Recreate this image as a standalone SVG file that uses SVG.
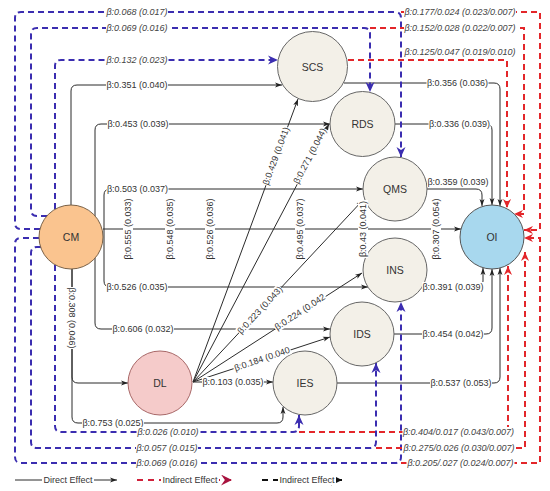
<svg xmlns="http://www.w3.org/2000/svg" width="550" height="491" viewBox="0 0 550 491">
<style>
.d{fill:none;stroke:#2b2b2b;stroke-width:1}
.b{fill:none;stroke:#3B2DB0;stroke-width:2;stroke-dasharray:6 4}
.r{fill:none;stroke:#E3262A;stroke-width:2;stroke-dasharray:6 4}
.bg{fill:#fff}
.lbl{font-family:"Liberation Sans",Arial,Helvetica,sans-serif;font-size:9px;fill:#333;text-anchor:middle;dominant-baseline:central}
.il{font-style:italic;fill:#444}
.nt{font-family:"Liberation Sans",Arial,Helvetica,sans-serif;font-size:10.5px;fill:#333;text-anchor:middle;dominant-baseline:central}
.nd{fill:#F3F0E8;stroke:#666;stroke-width:1}
</style>
<defs>
<marker id="ab" viewBox="0 0 10 10" refX="10" refY="5" markerWidth="7" markerHeight="7" markerUnits="userSpaceOnUse" orient="auto"><path d="M0,1.5 L10,5 L0,8.5 L2.5,5z" fill="#222"/></marker>
<marker id="mb" viewBox="0 0 10 10" refX="10" refY="5" markerWidth="10" markerHeight="10" markerUnits="userSpaceOnUse" orient="auto"><path d="M0,0.5 L10,5 L0,9.5 L3,5z" fill="#3B2DB0"/></marker>
<marker id="mr" viewBox="0 0 10 10" refX="10" refY="5" markerWidth="9" markerHeight="9" markerUnits="userSpaceOnUse" orient="auto"><path d="M0,0.5 L10,5 L0,9.5 L3,5z" fill="#E3262A"/></marker>
<marker id="lr" viewBox="0 0 10 10" refX="10" refY="5" markerWidth="11" markerHeight="11" markerUnits="userSpaceOnUse" orient="auto"><path d="M0,0 L10,5 L0,10 L3.5,5z" fill="#A8123E"/></marker>
<marker id="lk" viewBox="0 0 10 10" refX="10" refY="5" markerWidth="11" markerHeight="11" markerUnits="userSpaceOnUse" orient="auto"><path d="M0,0 L10,5 L0,10 L3.5,5z" fill="#111"/></marker>
</defs>
<rect width="550" height="491" fill="#fff"/>
<g id="connectors">
<g marker-end="url(#ab)">
<path class="d" d="M71,205 V91 Q71,85 77,85 H282"/>
<path class="d" d="M95,216 V130 Q95,124 101,124 H330"/>
<path class="d" d="M104,229 V195 Q104,189 110,189 H363"/>
<path class="d" d="M103,229 H461"/>
<path class="d" d="M104,229 V281 Q104,287 110,287 H368"/>
<path class="d" d="M95,258 V323 Q95,329 101,329 H330"/>
<path class="d" d="M72,269 V377 Q72,383 78,383 H128"/>
<path class="d" d="M72,269 V417 Q72,423 78,423 H277 Q283,423 283,417 V407"/>
<path class="d" d="M193,382 L298,99"/>
<path class="d" d="M193,382 L329,124"/>
<path class="d" d="M193,382 L363,200"/>
<path class="d" d="M193,382 L362,273"/>
<path class="d" d="M193,382 L330,337"/>
<path class="d" d="M193,382 H273"/>
<path class="d" d="M344,83 H494 Q500,83 500,89 V206"/>
<path class="d" d="M395,124 H486 Q492,124 492,130 V205"/>
<path class="d" d="M427,189 H476 Q482,189 482,195 V206"/>
<path class="d" d="M422,287 H477 Q483,287 483,281 V268"/>
<path class="d" d="M394,334 H486 Q492,334 492,328 V269"/>
<path class="d" d="M337,383 H494 Q500,383 500,377 V268"/>
<path class="d" d="M15,480 H117"/>
</g>
<g marker-end="url(#mb)">
<path class="b" d="M40,229 H21 Q15,229 15,223 V18 Q15,12 21,12 H395 Q401,12 401,18 V157"/>
<path class="b" d="M47,216 H37 Q31,216 31,210 V34 Q31,28 37,28 H364 Q370,28 370,34 V92"/>
<path class="b" d="M55,209 V66 Q55,60 61,60 H278"/>
<path class="b" d="M55,265 V426 Q55,432 61,432 H293 Q299,432 299,426 V415"/>
<path class="b" d="M41,247 H37 Q31,247 31,253 V442 Q31,448 37,448 H370 Q376,448 376,442 V363"/>
<path class="b" d="M39,238 H21 Q15,238 15,244 V457 Q15,463 21,463 H395 Q401,463 401,457 V302"/>
</g>
<g marker-end="url(#mr)">
<path class="r" d="M401,12 H540 V230 H524"/>
<path class="r" d="M370,28 H524 V214 H514"/>
<path class="r" d="M348,60 H507 V208"/>
<path class="r" d="M299,432 H508 V266"/>
<path class="r" d="M376,448 H525 V252"/>
<path class="r" d="M401,463 H540 V238 H524"/>
</g>
<path d="M137,480 H232" fill="none" stroke="#D0203A" stroke-width="2" stroke-dasharray="6 5" marker-end="url(#lr)"/>
<path d="M262,480 H342" fill="none" stroke="#111" stroke-width="2" stroke-dasharray="6 5" marker-end="url(#lk)"/>
</g>
<g id="CM"><circle cx="71" cy="237" r="32" fill="#FAC48F" stroke="#7a6248"/><text class="nt" x="71" y="237">CM</text></g>
<g id="SCS"><circle cx="312.5" cy="66.5" r="35" class="nd"/><text class="nt" x="312.5" y="67">SCS</text></g>
<g id="RDS"><circle cx="362.5" cy="124" r="32.5" class="nd"/><text class="nt" x="362.5" y="124">RDS</text></g>
<g id="QMS"><circle cx="395" cy="189" r="32" class="nd"/><text class="nt" x="395" y="189">QMS</text></g>
<g id="INS"><circle cx="395" cy="270" r="32" class="nd"/><text class="nt" x="395" y="270">INS</text></g>
<g id="IDS"><circle cx="362" cy="334" r="32" class="nd"/><text class="nt" x="362" y="334">IDS</text></g>
<g id="IES"><circle cx="305" cy="383" r="32" class="nd"/><text class="nt" x="305" y="383">IES</text></g>
<g id="DL"><circle cx="160" cy="383" r="32" fill="#F5CBCA" stroke="#A86868"/><text class="nt" x="160" y="383">DL</text></g>
<g id="OI"><circle cx="492" cy="237" r="32" fill="#A8D8EE" stroke="#555"/><text class="nt" x="492" y="237">OI</text></g>
<g id="labels">
<g transform="translate(137,85)"><rect class="bg" x="-31" y="-5" width="62" height="10"/><text class="lbl">β:0.351 (0.040)</text></g>
<g transform="translate(138,124)"><rect class="bg" x="-31" y="-5" width="62" height="10"/><text class="lbl">β:0.453 (0.039)</text></g>
<g transform="translate(137.5,189)"><rect class="bg" x="-31" y="-5" width="62" height="10"/><text class="lbl">β:0.503 (0.037)</text></g>
<g transform="translate(137,287)"><rect class="bg" x="-31" y="-5" width="62" height="10"/><text class="lbl">β:0.526 (0.035)</text></g>
<g transform="translate(143,329)"><rect class="bg" x="-31" y="-5" width="62" height="10"/><text class="lbl">β:0.606 (0.032)</text></g>
<g transform="translate(113,423)"><rect class="bg" x="-31" y="-5" width="62" height="10"/><text class="lbl">β:0.753 (0.025)</text></g>
<g transform="translate(233,382)"><rect class="bg" x="-31" y="-5" width="62" height="10"/><text class="lbl">β:0.103 (0.035)</text></g>
<g transform="translate(72,318) rotate(90)"><rect class="bg" x="-31" y="-5" width="62" height="10"/><text class="lbl">β:0.308 (0.046)</text></g>
<g transform="translate(128,229) rotate(-90)"><rect class="bg" x="-31" y="-5" width="62" height="10"/><text class="lbl">β:0.555 (0.033)</text></g>
<g transform="translate(170,229) rotate(-90)"><rect class="bg" x="-31" y="-5" width="62" height="10"/><text class="lbl">β:0.548 (0.035)</text></g>
<g transform="translate(210,229) rotate(-90)"><rect class="bg" x="-31" y="-5" width="62" height="10"/><text class="lbl">β:0.526 (0.036)</text></g>
<g transform="translate(300,229) rotate(-90)"><rect class="bg" x="-31" y="-5" width="62" height="10"/><text class="lbl">β:0.495 (0.037)</text></g>
<g transform="translate(363,229) rotate(-90)"><rect class="bg" x="-29" y="-5" width="58" height="10"/><text class="lbl">β:0.43 (0.041)</text></g>
<g transform="translate(436,229) rotate(-90)"><rect class="bg" x="-31" y="-5" width="62" height="10"/><text class="lbl">β:0.307 (0.054)</text></g>
<g transform="translate(276,156) rotate(-69.7)"><rect class="bg" x="-31" y="-5" width="62" height="10"/><text class="lbl">β:0.429 (0.041)</text></g>
<g transform="translate(310,156) rotate(-62.6)"><rect class="bg" x="-31" y="-5" width="62" height="10"/><text class="lbl">β:0.271 (0.044)</text></g>
<g transform="translate(260,310) rotate(-47.1)"><rect class="bg" x="-31" y="-5" width="62" height="10"/><text class="lbl">β:0.223 (0.043)</text></g>
<g transform="translate(300,312) rotate(-33.1)"><rect class="bg" x="-30" y="-5" width="60" height="10"/><text class="lbl">β:0.224 (0.042</text></g>
<g transform="translate(262,359) rotate(-18.7)"><rect class="bg" x="-30" y="-5" width="60" height="10"/><text class="lbl">β:0.184 (0.040</text></g>
<g transform="translate(457.5,83)"><rect class="bg" x="-31" y="-5" width="62" height="10"/><text class="lbl">β:0.356 (0.036)</text></g>
<g transform="translate(459.5,124)"><rect class="bg" x="-31" y="-5" width="62" height="10"/><text class="lbl">β:0.336 (0.039)</text></g>
<g transform="translate(458,182)"><rect class="bg" x="-31" y="-5" width="62" height="10"/><text class="lbl">β:0.359 (0.039)</text></g>
<g transform="translate(453,287)"><rect class="bg" x="-31" y="-5" width="62" height="10"/><text class="lbl">β:0.391 (0.039)</text></g>
<g transform="translate(453,334)"><rect class="bg" x="-31" y="-5" width="62" height="10"/><text class="lbl">β:0.454 (0.042)</text></g>
<g transform="translate(461,383)"><rect class="bg" x="-31" y="-5" width="62" height="10"/><text class="lbl">β:0.537 (0.053)</text></g>
<g transform="translate(137,12)"><rect class="bg" x="-31" y="-5" width="62" height="10"/><text class="lbl il">β:0.068 (0.017)</text></g>
<g transform="translate(137,28)"><rect class="bg" x="-31" y="-5" width="62" height="10"/><text class="lbl il">β:0.069 (0.016)</text></g>
<g transform="translate(137,60)"><rect class="bg" x="-31" y="-5" width="62" height="10"/><text class="lbl il">β:0.132 (0.023)</text></g>
<g transform="translate(168,432)"><rect class="bg" x="-31" y="-5" width="62" height="10"/><text class="lbl il">β:0.026 (0.010)</text></g>
<g transform="translate(167,448)"><rect class="bg" x="-31" y="-5" width="62" height="10"/><text class="lbl il">β:0.057 (0.015)</text></g>
<g transform="translate(167,463)"><rect class="bg" x="-31" y="-5" width="62" height="10"/><text class="lbl il">β:0.069 (0.016)</text></g>
<g transform="translate(460,12)"><rect class="bg" x="-56" y="-5" width="112" height="10"/><text class="lbl il">β:0.177/0.024 (0.023/0.007)</text></g>
<g transform="translate(460,28)"><rect class="bg" x="-56" y="-5" width="112" height="10"/><text class="lbl il">β:0.152/0.028 (0.022/0.007)</text></g>
<g transform="translate(460,52)"><rect class="bg" x="-56" y="-5" width="112" height="10"/><text class="lbl il">β:0.125/0.047 (0.019/0.010)</text></g>
<g transform="translate(458.5,432)"><rect class="bg" x="-56" y="-5" width="112" height="10"/><text class="lbl il">β:0.404/0.017 (0.043/0.007)</text></g>
<g transform="translate(459,448)"><rect class="bg" x="-56" y="-5" width="112" height="10"/><text class="lbl il">β:0.275/0.026 (0.030/0.007)</text></g>
<g transform="translate(460.5,463)"><rect class="bg" x="-54" y="-5" width="108" height="10"/><text class="lbl il">β:0.205/.027 (0.024/0.007)</text></g>
</g>
<g id="legend">
<g transform="translate(68,480)"><rect class="bg" x="-26" y="-5" width="52" height="10"/><text class="lbl">Direct Effect</text></g>
<g transform="translate(190,480)"><rect class="bg" x="-29" y="-5" width="58" height="10"/><text class="lbl">Indirect Effect</text></g>
<g transform="translate(307,480)"><rect class="bg" x="-29" y="-5" width="58" height="10"/><text class="lbl">Indirect Effect</text></g>
</g>
</svg>
